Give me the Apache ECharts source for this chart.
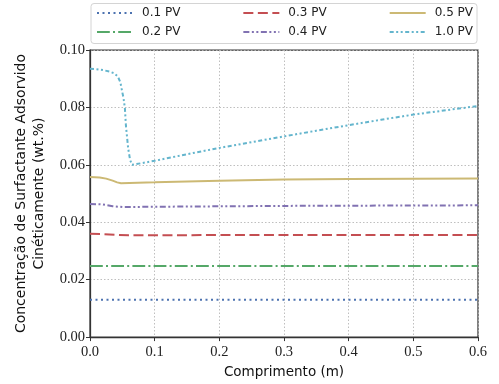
<!DOCTYPE html>
<html>
<head>
<meta charset="utf-8">
<script src="https://cdn.jsdelivr.net/npm/echarts@6/dist/echarts.min.js"></script>
<style>
  html, body { margin: 0; padding: 0; background: #fff; }
  #chart { width: 499px; height: 384px; }
</style>
</head>
<body>
<div id="chart"></div>
<script>
// Comprimento (m) vs. concentração adsorvida (wt.%) para cada volume injetado
const xFlat = [0, 0.6];
const pv01 = [0.0130, 0.0130];
const pv02 = [0.0248, 0.0248];

const x03 = [0, 0.02, 0.04, 0.06, 0.6];
const pv03 = [0.0360, 0.0359, 0.0356, 0.0355, 0.0356];

const x04 = [0, 0.02, 0.035, 0.05, 0.1, 0.3, 0.6];
const pv04 = [0.0464, 0.0462, 0.0456, 0.0453, 0.0454, 0.0457, 0.0459];

const x05 = [0, 0.015, 0.025, 0.035, 0.042, 0.048, 0.1, 0.2, 0.3, 0.4, 0.6];
const pv05 = [0.0558, 0.0556, 0.0552, 0.0545, 0.0539, 0.0536, 0.0539, 0.0545, 0.0549, 0.0551, 0.0552];

const x10 = [0, 0.01, 0.02, 0.03, 0.0375, 0.043, 0.047, 0.049, 0.052, 0.054, 0.0555, 0.0575,
             0.059, 0.062, 0.065, 0.08, 0.1, 0.15, 0.2, 0.25, 0.3, 0.35, 0.4, 0.45, 0.5, 0.55, 0.6];
const pv10 = [0.0935, 0.0933, 0.0930, 0.0925, 0.0919, 0.0908, 0.0887, 0.0864, 0.0830, 0.0796, 0.0738, 0.0692,
              0.0658, 0.0617, 0.0600, 0.0606, 0.0614, 0.0637, 0.0659, 0.0679, 0.0699, 0.0719, 0.0738, 0.0757, 0.0775, 0.0790, 0.0805];

const seriesNames = ['0.1 PV', '0.2 PV', '0.3 PV', '0.4 PV', '0.5 PV', '1.0 PV'];
const legendRow1 = ['0.1 PV', '0.3 PV', '0.5 PV'];
const legendRow2 = ['0.2 PV', '0.4 PV', '1.0 PV'];
const yTicks = { min: 0, max: 0.10, step: 0.02 };
const xTicks = { min: 0, max: 0.6, step: 0.1 };

const zip = (xs, ys) => xs.map((x, i) => [x, ys[i]]);

const styles = [
  { color: '#4c72b0', type: [2, 3.5] },
  { color: '#55a868', type: [12.8, 3.2, 2, 3.2] },
  { color: '#c44e52', type: [10, 4.5] },
  { color: '#8172b2', type: [6, 2.5, 2, 2.5, 2, 2.5] },
  { color: '#ccb974', type: 'solid' },
  { color: '#64b5cd', type: [4, 2.5, 2, 2.5, 2, 2.5] }
];
const datasets = [zip(xFlat, pv01), zip(xFlat, pv02), zip(x03, pv03), zip(x04, pv04), zip(x05, pv05), zip(x10, pv10)];

const tickFont = { fontFamily: 'Liberation Serif', fontSize: 14.5, color: '#222' };
const axisLine = { show: true, lineStyle: { color: '#333', width: 1.25 } };
const splitLine = { show: true, lineStyle: { color: '#b8b8b8', type: [1.5, 2], width: 0.9 } };

// legend shows only the line sample, no marker
const legendCommon = {
  left: 96,
  itemWidth: 36,
  itemHeight: 12,
  itemGap: 62,
  padding: 0,
  itemStyle: { opacity: 0 },
  textStyle: { fontFamily: 'DejaVu Sans', fontSize: 12, color: '#222', padding: [0, 0, 0, 4] }
};

const chart = echarts.init(document.getElementById('chart'), null, { renderer: 'canvas' });
chart.setOption({
  animation: false,
  backgroundColor: '#fff',
  grid: { left: 90, right: 21, top: 50, bottom: 45, show: true, borderColor: '#333', borderWidth: 1.25 },
  xAxis: {
    type: 'value', min: xTicks.min, max: xTicks.max, interval: xTicks.step,
    name: 'Comprimento (m)', nameLocation: 'middle', nameGap: 27,
    nameTextStyle: { fontFamily: 'DejaVu Sans', fontSize: 13.5, color: '#111' },
    axisLine, axisTick: { show: true, length: 4, lineStyle: { color: '#333', width: 1 } },
    axisLabel: Object.assign({ margin: 8, formatter: v => v.toFixed(1) }, tickFont),
    splitLine
  },
  yAxis: {
    type: 'value', min: yTicks.min, max: yTicks.max, interval: yTicks.step,
    name: 'Concentração de Surfactante Adsorvido\nCinéticamente (wt.%)',
    nameLocation: 'middle', nameGap: 41,
    nameTextStyle: { fontFamily: 'DejaVu Sans', fontSize: 14, color: '#111', lineHeight: 18 },
    axisLine, axisTick: { show: true, length: 4, lineStyle: { color: '#333', width: 1 } },
    axisLabel: Object.assign({ margin: 5, formatter: v => v.toFixed(2) }, tickFont),
    splitLine
  },
  legend: [
    Object.assign({ data: legendRow1, top: 7 }, legendCommon),
    Object.assign({ data: legendRow2, top: 26 }, legendCommon)
  ],
  graphic: [{
    type: 'rect', z: 0, zlevel: 0,
    shape: { x: 91, y: 3.5, width: 386, height: 40, r: 3 },
    style: { fill: 'rgba(255,255,255,0.9)', stroke: '#d4d4d4', lineWidth: 1 }
  }],
  series: seriesNames.map((name, i) => ({
    name,
    type: 'line',
    data: datasets[i],
    showSymbol: false,
    symbol: 'none',
    smooth: false,
    lineStyle: { color: styles[i].color, type: styles[i].type, width: 2 },
    itemStyle: { color: styles[i].color }
  }))
});
</script>
</body>
</html>
